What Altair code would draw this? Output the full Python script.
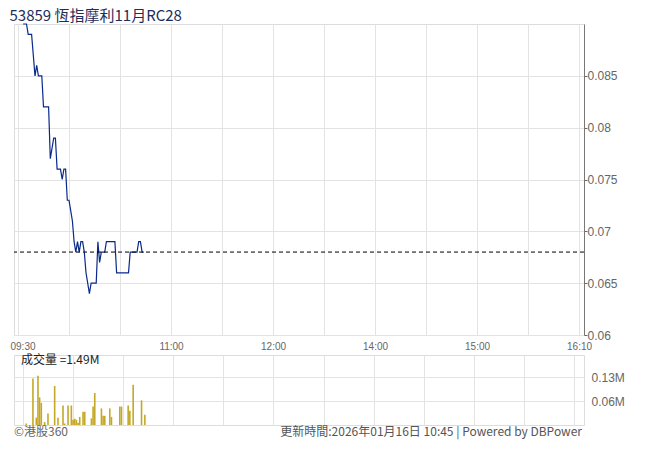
import altair as alt
import pandas as pd

# ---- data (minutes after 09:30, trading time) ----
price_minutes = [3, 4, 5, 6, 7, 8, 9, 10, 11, 12, 13, 14, 15, 16, 17, 18, 19, 20,
                 21, 22, 23, 24, 25, 26, 27, 28, 29, 30, 31, 32, 33, 34, 35, 36,
                 37, 38, 39, 40, 41, 42, 43, 44, 45, 46, 47, 48, 49, 50, 51, 52,
                 53, 54, 55, 56, 57, 58, 59, 60, 61, 62, 63, 64, 65, 66, 67, 68,
                 69, 70, 71, 72, 73, 74]
prices = [0.090, 0.090, 0.090, 0.089, 0.089, 0.089, 0.087, 0.085, 0.086, 0.085,
          0.085, 0.085, 0.082, 0.082, 0.082, 0.082, 0.077, 0.078, 0.079, 0.079,
          0.076, 0.076, 0.076, 0.075, 0.076, 0.076, 0.073, 0.073, 0.072, 0.071,
          0.069, 0.068, 0.069, 0.068, 0.069, 0.069, 0.068, 0.066, 0.065, 0.064,
          0.065, 0.065, 0.065, 0.065, 0.069, 0.067, 0.068, 0.068, 0.068, 0.069,
          0.069, 0.069, 0.069, 0.069, 0.069, 0.066, 0.066, 0.066, 0.066, 0.066,
          0.066, 0.066, 0.066, 0.068, 0.068, 0.068, 0.068, 0.068, 0.069, 0.069,
          0.068, 0.068]

vol_minutes = [2, 6, 8, 9, 10, 11, 13, 15, 19, 21, 24, 25, 27, 29, 30, 31, 32, 33,
               34, 36, 37, 41, 42, 43, 47, 48, 49, 52, 53, 58, 59, 63, 64, 66, 71, 73]
volumes_m = [0.004, 0.126, 0.020, 0.134, 0.075, 0.060, 0.008, 0.031, 0.106, 0.020,
             0.053, 0.004, 0.053, 0.053, 0.014, 0.017, 0.014, 0.006, 0.022, 0.036,
             0.036, 0.018, 0.050, 0.087, 0.045, 0.025, 0.025, 0.045, 0.022, 0.050,
             0.050, 0.053, 0.039, 0.109, 0.067, 0.028]

prev_close = 0.068
price_ticks = [0.06, 0.065, 0.07, 0.075, 0.08, 0.085]
vol_ticks = [0.065, 0.13]
vol_tick_labels = ["0.06M", "0.13M"]
time_grid = [0, 30, 60, 90, 120, 150, 180, 210, 240, 270, 300, 330]
time_label_pos = [0, 90, 150, 210, 270, 330]
time_labels = ["09:30", "11:00", "12:00", "14:00", "15:00", "16:10"]

title_text = "53859 恆指摩利11月RC28"
vol_label = "成交量 =1.49M"
footer_left = "©港股360"
footer_right = "更新時間:2026年01月16日 10:45 | Powered by DBPower"

CJK = "Noto Sans CJK TC"
LAT = "Liberation Sans"

W, H1, H2 = 570, 311, 70

# label expressions built from the lists
time_expr = "''"
for pos, lab in zip(reversed(time_label_pos), reversed(time_labels)):
    time_expr = f"datum.value == {pos} ? '{lab}' : ({time_expr})"
vol_expr = "''"
for pos, lab in zip(reversed(vol_ticks), reversed(vol_tick_labels)):
    vol_expr = f"abs(datum.value - {pos}) < 0.001 ? '{lab}' : ({vol_expr})"

pdf = pd.DataFrame({"m": price_minutes, "p": prices})
vdf = pd.DataFrame({"m": vol_minutes, "v": volumes_m})

xscale = alt.Scale(domain=[-2.35, 332.9], nice=False, zero=False)

price_x = alt.X(
    "m:Q", scale=xscale,
    axis=alt.Axis(values=time_grid, labelExpr=time_expr, grid=True, ticks=False,
                  domain=False, title=None, labelFontSize=10, labelColor="#666666",
                  labelFont=LAT, labelPadding=6, labelOverlap=False,
                  labelAlign={"condition": {"test": "datum.value == 0", "value": "left"},
                              "value": "center"},
                  labelOffset={"condition": {"test": "datum.value == 0", "value": -8},
                               "value": 0}),
)
price_y = alt.Y(
    "p:Q", scale=alt.Scale(domain=[0.06, 0.09], nice=False, zero=False),
    axis=alt.Axis(orient="right", values=price_ticks, format=".3~f", title=None,
                  grid=True, tickSize=3, tickColor="#666666", domainColor="#777777",
                  labelColor="#666666", labelFontSize=12, labelFont=LAT, labelPadding=0),
)

line = alt.Chart(pdf).mark_line(color="#0a2a8a", strokeWidth=1.2).encode(x=price_x, y=price_y)
rule = alt.Chart(pd.DataFrame({"p": [prev_close]})).mark_rule(
    color="#000000", strokeDash=[4, 3], strokeWidth=1
).encode(y="p:Q")
price_chart = alt.layer(line, rule).properties(width=W, height=H1)

bars = alt.Chart(vdf).mark_bar(color="#c4a826", size=1.6).encode(
    x=alt.X("m:Q", scale=xscale,
            axis=alt.Axis(values=time_grid, labels=False, ticks=False, domain=False,
                          title=None, grid=True)),
    y=alt.Y("v:Q", scale=alt.Scale(domain=[0, 0.19], nice=False),
            axis=alt.Axis(orient="right", values=vol_ticks, labelExpr=vol_expr,
                          ticks=False, domain=False, title=None, grid=True,
                          labelColor="#666666", labelFontSize=12, labelFont=LAT,
                          labelPadding=7)),
)
vlab = alt.Chart(pd.DataFrame({"t": [vol_label]})).mark_text(
    align="left", baseline="middle", fontSize=12, color="#222222", font=CJK
).encode(x=alt.value(7), y=alt.value(5), text="t:N")
fl = alt.Chart(pd.DataFrame({"t": [footer_left]})).mark_text(
    align="left", baseline="middle", fontSize=12, color="#666666", font=CJK
).encode(x=alt.value(0), y=alt.value(H2 + 7), text="t:N")
fr = alt.Chart(pd.DataFrame({"t": [footer_right]})).mark_text(
    align="right", baseline="middle", fontSize=12, color="#555555", font=CJK
).encode(x=alt.value(W - 2), y=alt.value(H2 + 7), text="t:N")
vol_chart = alt.layer(bars, vlab, fl, fr).properties(width=W, height=H2)

chart = alt.vconcat(price_chart, vol_chart, spacing=1).resolve_scale(
    x="independent", y="independent"
).properties(
    title=alt.Title(title_text, anchor="start", fontSize=15, color="#1f2d5a",
                    font=CJK, fontWeight="normal", offset=-3),
    padding={"left": 1, "top": 1, "right": 5, "bottom": 5},
).configure_view(stroke="#dcdcdc").configure_axis(gridColor="#e3e3e3")

chart.save("out.html", embed_options={"renderer": "svg", "actions": False})
